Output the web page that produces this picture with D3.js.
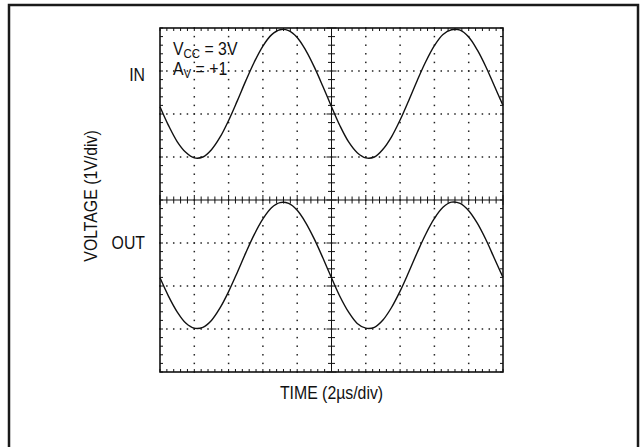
<!DOCTYPE html>
<html><head><meta charset="utf-8">
<script src="https://cdn.jsdelivr.net/npm/d3@7"></script>
<style>
html,body{margin:0;padding:0;background:#fff;}
text{font-family:"Liberation Sans",Arial,Helvetica,sans-serif;fill:#111;}
</style></head>
<body>
<svg id="c" width="642" height="447"></svg>
<script>
// time axis in divisions (2µs/div), 0..10
const timeDiv = d3.range(0, 10.001, 0.25);
// IN trace (divisions, 1V/div, relative to screen centre)
const inTrace = [2.17,1.73,1.36,1.11,0.98,1.00,1.17,1.46,1.85,2.30,2.77,3.21,3.58,3.84,3.96,3.94,3.78,3.48,3.09,2.64,
                 2.17,1.72,1.35,1.10,0.98,1.00,1.18,1.47,1.86,2.31,2.78,3.22,3.59,3.85,3.96,3.95,3.79,3.49,3.10,2.65,2.20];
// OUT trace
const outTrace = [-1.81,-2.24,-2.60,-2.86,-2.98,-2.96,-2.80,-2.51,-2.13,-1.69,-1.23,-0.80,-0.44,-0.18,-0.06,-0.08,-0.24,-0.53,-0.91,-1.35,
                  -1.81,-2.25,-2.61,-2.87,-2.98,-2.96,-2.79,-2.50,-2.12,-1.68,-1.22,-0.79,-0.43,-0.17,-0.05,-0.08,-0.25,-0.54,-0.92,-1.36,-1.80];
const traceLabels = ["IN", "OUT"];
const traceLabelLevels = [2.9, -1.0];
const xTitle = "TIME (2µs/div)";
const yTitle = "VOLTAGE (1V/div)";

const svg = d3.select("#c");
const x = d3.scaleLinear().domain([0,10]).range([160,503]);
const y = d3.scaleLinear().domain([-4,4]).range([372,28]);

// outer frame
svg.append("rect").attr("x",9).attr("y",5).attr("width",629).attr("height",470)
  .attr("fill","none").attr("stroke","#1a1a1a").attr("stroke-width",2.5);

const g = svg.append("g");

// dotted graticule
const minorX = d3.range(0, 10.001, 0.2);
const minorY = d3.range(-4, 4.001, 0.2);
[1,2,3,4,6,7,8,9].forEach(v => {
  g.selectAll(null).data(minorY).enter().append("rect")
   .attr("x", x(v)-0.75).attr("y", d => y(d)-0.75).attr("width",1.5).attr("height",1.5).attr("fill","#222");
});
[-3,-2,-1,1,2,3].forEach(v => {
  g.selectAll(null).data(minorX).enter().append("rect")
   .attr("x", d => x(d)-0.75).attr("y", y(v)-0.75).attr("width",1.5).attr("height",1.5).attr("fill","#222");
});

// centre lines
g.append("line").attr("x1",x(0)).attr("x2",x(10)).attr("y1",y(0)).attr("y2",y(0)).attr("stroke","#111").attr("stroke-width",1);
g.append("line").attr("x1",x(5)).attr("x2",x(5)).attr("y1",y(-4)).attr("y2",y(4)).attr("stroke","#111").attr("stroke-width",1);

const isMajor = d => Math.abs(d - Math.round(d)) < 1e-6;
// centre ticks
g.selectAll(null).data(minorX).enter().append("line")
  .attr("x1", d=>x(d)).attr("x2", d=>x(d))
  .attr("y1", d=>y(0)-(isMajor(d)?5:3.5)).attr("y2", d=>y(0)+(isMajor(d)?5:3.5))
  .attr("stroke","#111").attr("stroke-width",1);
g.selectAll(null).data(minorY).enter().append("line")
  .attr("y1", d=>y(d)).attr("y2", d=>y(d))
  .attr("x1", d=>x(5)-(isMajor(d)?5:3.5)).attr("x2", d=>x(5)+(isMajor(d)?5:3.5))
  .attr("stroke","#111").attr("stroke-width",1);
// edge ticks
g.selectAll(null).data(minorX).enter().append("line")
  .attr("x1", d=>x(d)).attr("x2", d=>x(d)).attr("y1", y(4)).attr("y2", y(4)+3)
  .attr("stroke","#111").attr("stroke-width",1);
g.selectAll(null).data(minorX).enter().append("line")
  .attr("x1", d=>x(d)).attr("x2", d=>x(d)).attr("y1", y(-4)).attr("y2", y(-4)-3)
  .attr("stroke","#111").attr("stroke-width",1);
g.selectAll(null).data(minorY).enter().append("line")
  .attr("y1", d=>y(d)).attr("y2", d=>y(d)).attr("x1", x(0)).attr("x2", x(0)+3)
  .attr("stroke","#111").attr("stroke-width",1);
g.selectAll(null).data(minorY).enter().append("line")
  .attr("y1", d=>y(d)).attr("y2", d=>y(d)).attr("x1", x(10)).attr("x2", x(10)-3)
  .attr("stroke","#111").attr("stroke-width",1);

// plot frame
g.append("rect").attr("x",x(0)).attr("y",y(4)).attr("width",x(10)-x(0)).attr("height",y(-4)-y(4))
  .attr("fill","none").attr("stroke","#111").attr("stroke-width",1.6);

// traces
const line = d3.line().x((d,i)=>x(timeDiv[i])).y(d=>y(d)).curve(d3.curveCatmullRom);
[inTrace, outTrace].forEach(t => {
  g.append("path").attr("d", line(t)).attr("fill","none").attr("stroke","#111").attr("stroke-width",1.4);
});

// labels (condensed look)
const FS = 18, SX = 0.88;
function txt(px, py, anchor, rot) {
  return svg.append("text")
    .attr("transform", "translate("+px+","+py+")" + (rot ? " rotate(-90)" : "") + " scale("+SX+",1)")
    .attr("text-anchor", anchor).attr("font-size", FS);
}
traceLabels.forEach((l,i) => {
  txt(145, y(traceLabelLevels[i])+6, "end").text(l);
});
txt((x(0)+x(10))/2, 399, "middle").text(xTitle);
svg.append("text").attr("transform","translate(97,"+(y(0)-4)+") rotate(-90) scale("+SX+",1)")
  .attr("text-anchor","middle").attr("font-size",FS).text(yTitle);

const t1 = txt(173, 55, "start");
t1.append("tspan").text("V");
t1.append("tspan").attr("font-size",13).attr("dy",3).text("CC");
t1.append("tspan").attr("dy",-3).text(" = 3V");
const t2 = txt(173, 75, "start");
t2.append("tspan").text("A");
t2.append("tspan").attr("font-size",13).attr("dy",3).text("V");
t2.append("tspan").attr("dy",-3).text(" = +1");
</script>
</body></html>
